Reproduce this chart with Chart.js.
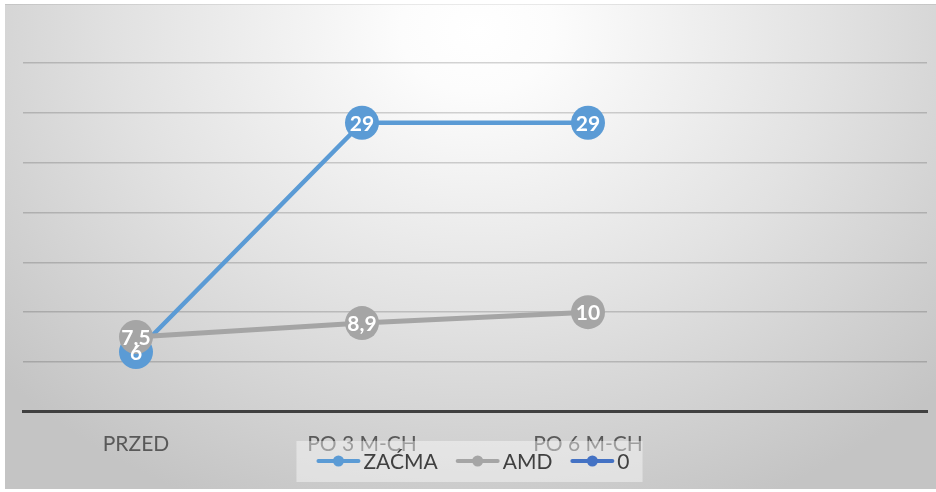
<!DOCTYPE html>
<html>
<head>
<meta charset="utf-8">
<script src="https://cdn.jsdelivr.net/npm/chart.js@4/dist/chart.umd.min.js"></script>
<style>
  html, body { margin: 0; padding: 0; background: #ffffff; }
  #wrap { width: 936px; height: 492px; position: relative; }
</style>
</head>
<body>
<div id="wrap"><canvas id="chart" width="936" height="492"></canvas></div>
<script>
// Categories along the x axis (the last slot is left empty)
const categories = ['PRZED', 'PO 3 M-CH', 'PO 6 M-CH', ''];
// Series values
const zacmaValues = [6, 29, 29, null];
const amdValues = [7.5, 8.9, 10, null];
const zeroValues = [null, null, null, null];
// Series names
const seriesNames = ['ZAĆMA', 'AMD', '0'];
// Value axis range
const yMin = 0;
const yMax = 35;
const yStep = 5;

const FONT = 'Lato, "Open Sans", sans-serif';

// Panel with a soft radial shading behind the chart
const panelBackground = {
  id: 'panelBackground',
  beforeDraw(chart) {
    const ctx = chart.ctx;
    const W = chart.width, H = chart.height;
    ctx.save();
    ctx.fillStyle = '#ffffff';
    ctx.fillRect(0, 0, W, H);
    const px = 5, py = 4, pw = W - px, ph = H - py - 3;
    ctx.beginPath();
    ctx.rect(px, py, pw, ph);
    ctx.clip();
    const cx = W * 0.51, cy = 30;
    const rx = 640, ry = 520;
    ctx.translate(cx, cy);
    ctx.scale(1, ry / rx);
    const g = ctx.createRadialGradient(0, 0, 0, 0, 0, rx);
    g.addColorStop(0, '#ffffff');
    g.addColorStop(0.12, '#fcfcfc');
    g.addColorStop(0.55, '#e2e2e2');
    g.addColorStop(1, '#c4c4c4');
    ctx.fillStyle = g;
    ctx.fillRect(-cx - 10, -cy * rx / ry - 10, W + 20, (H + 20) * rx / ry + 20);
    ctx.restore();
    ctx.save();
    ctx.strokeStyle = 'rgba(0,0,0,0.08)';
    ctx.lineWidth = 1;
    ctx.beginPath();
    ctx.moveTo(px, py + 0.5);
    ctx.lineTo(W, py + 0.5);
    ctx.stroke();
    ctx.restore();
  }
};

// White value labels centred on each marker
const markerLabels = {
  id: 'markerLabels',
  afterDatasetsDraw(chart) {
    const ctx = chart.ctx;
    ctx.save();
    ctx.font = 'bold 21px ' + FONT;
    ctx.fillStyle = '#ffffff';
    ctx.textAlign = 'center';
    ctx.textBaseline = 'middle';
    chart.data.datasets.forEach((ds, di) => {
      const meta = chart.getDatasetMeta(di);
      ds.data.forEach((v, i) => {
        if (v === null || v === undefined) return;
        const el = meta.data[i];
        const txt = String(v).replace('.', ',');
        ctx.fillText(txt, el.x, el.y + 1);
      });
    });
    ctx.restore();
  }
};

// Legend in a translucent box laid over the category labels
const boxedLegend = {
  id: 'boxedLegend',
  afterDraw(chart) {
    const ctx = chart.ctx;
    ctx.save();
    ctx.font = '21px ' + FONT;
    const lineW = 44, gapText = 3, gapItem = 18;
    const items = chart.data.datasets.map(ds => ({
      label: ds.label,
      color: ds.borderColor,
      w: ctx.measureText(ds.label).width
    }));
    const total = items.reduce((s, it) => s + lineW + gapText + it.w, 0) + gapItem * (items.length - 1);
    const area = chart.chartArea;
    const centre = (area.left + area.right) / 2 - 2;
    let x = centre - total / 2;
    const y = chart.height - 31;
    ctx.fillStyle = 'rgba(255,255,255,0.42)';
    ctx.fillRect(x - 20, y - 20, total + 33, 41);
    ctx.textBaseline = 'middle';
    ctx.textAlign = 'left';
    items.forEach(it => {
      ctx.strokeStyle = it.color;
      ctx.lineWidth = 4;
      ctx.lineCap = 'round';
      ctx.beginPath();
      ctx.moveTo(x + 2, y);
      ctx.lineTo(x + lineW - 2, y);
      ctx.stroke();
      ctx.fillStyle = it.color;
      ctx.beginPath();
      ctx.arc(x + lineW / 2, y, 5.5, 0, Math.PI * 2);
      ctx.fill();
      ctx.fillStyle = '#404040';
      ctx.fillText(it.label, x + lineW + gapText, y + 1);
      x += lineW + gapText + it.w + gapItem;
    });
    ctx.restore();
  }
};

new Chart(document.getElementById('chart'), {
  type: 'line',
  data: {
    labels: categories,
    datasets: [
      {
        label: seriesNames[0],
        data: zacmaValues,
        borderColor: '#5B9BD5',
        backgroundColor: '#5B9BD5',
        pointBackgroundColor: '#5B9BD5',
        borderWidth: 4.5,
        pointRadius: 17,
        pointHoverRadius: 17,
        pointBorderWidth: 0,
        order: 1
      },
      {
        label: seriesNames[1],
        data: amdValues,
        borderColor: '#A5A5A5',
        backgroundColor: '#A5A5A5',
        pointBackgroundColor: '#A5A5A5',
        borderWidth: 5,
        pointRadius: 17,
        pointHoverRadius: 17,
        pointBorderWidth: 0,
        order: 0
      },
      {
        label: seriesNames[2],
        data: zeroValues,
        borderColor: '#4472C4',
        backgroundColor: '#4472C4',
        pointBackgroundColor: '#4472C4',
        borderWidth: 4.5,
        pointRadius: 17,
        pointBorderWidth: 0,
        order: 2
      }
    ]
  },
  options: {
    responsive: false,
    animation: false,
    devicePixelRatio: 1,
    layout: { autoPadding: false, padding: { left: 23, right: 9, top: 63, bottom: 15 } },
    plugins: {
      legend: { display: false },
      tooltip: { enabled: false }
    },
    events: [],
    scales: {
      x: {
        offset: true,
        grid: { display: false, drawTicks: false },
        border: { display: true, color: '#404040', width: 3 },
        ticks: {
          color: '#595959',
          font: { family: FONT, size: 21 },
          padding: 20,
          maxRotation: 0,
          autoSkip: false
        }
      },
      y: {
        min: yMin,
        max: yMax,
        ticks: { display: false, stepSize: yStep },
        grid: { color: 'rgba(0,0,0,0.17)', lineWidth: 1.5, drawTicks: false },
        border: { display: false }
      }
    }
  },
  plugins: [panelBackground, markerLabels, boxedLegend]
});
</script>
</body>
</html>
